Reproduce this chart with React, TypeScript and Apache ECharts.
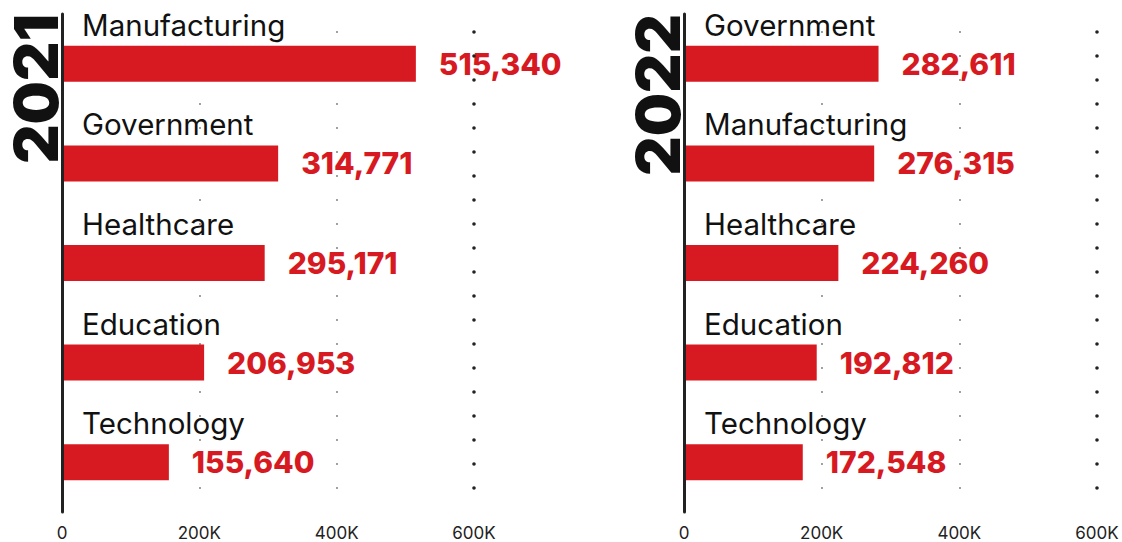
import React, { useEffect, useRef } from "react";
import * as echarts from "echarts";

const categories2021 = ["Manufacturing", "Government", "Healthcare", "Education", "Technology"];
const values2021 = [515340, 314771, 295171, 206953, 155640];
const categories2022 = ["Government", "Manufacturing", "Healthcare", "Education", "Technology"];
const values2022 = [282611, 276315, 224260, 192812, 172548];
const xTickLabels: Record<number, string> = { 0: "0", 200000: "200K", 400000: "400K", 600000: "600K" };
const years = ["2021", "2022"];

const RED = "#d71a21";
const INK = "#111111";
const FONT = "Inter, 'Liberation Sans', sans-serif";

function panel(idx: number, cats: string[], vals: number[]) {
  const xAxis = {
    type: "value",
    gridIndex: idx,
    min: 0,
    max: 600000,
    interval: 200000,
    axisLine: { show: false },
    axisTick: { show: false },
    axisLabel: {
      formatter: (v: number) => xTickLabels[v] ?? "",
      color: "#222",
      fontSize: 17,
      fontFamily: FONT,
      margin: 12,
    },
    splitLine: {
      show: true,
      lineStyle: { color: "#222", width: 1.6, type: [0, 24], cap: "round", dashOffset: 6 },
    },
  };
  const yAxis = {
    type: "category",
    gridIndex: idx,
    inverse: true,
    data: cats,
    axisLine: { show: true, lineStyle: { color: "#222", width: 3 } },
    axisTick: { show: false },
    axisLabel: { show: false },
    splitLine: { show: false },
    z: 5,
  };
  const series = [
    {
      type: "bar",
      xAxisIndex: idx,
      yAxisIndex: idx,
      data: vals,
      barWidth: 36,
      itemStyle: { color: RED },
      label: {
        show: true,
        position: "right",
        distance: 23,
        formatter: (p: any) => Number(p.value).toLocaleString("en-US"),
        color: RED,
        fontSize: 30,
        fontWeight: 800,
        fontFamily: FONT,
      },
      markLine: {
        silent: true,
        symbol: ["none", "none"],
        label: { show: false },
        lineStyle: { color: "#222", width: 3.6, type: [0, 24], cap: "round", dashOffset: 6 },
        data: [{ xAxis: 600000 }],
      },
      z: 2,
    },
    {
      type: "bar",
      xAxisIndex: idx,
      yAxisIndex: idx,
      data: vals,
      barWidth: 36,
      barGap: "-100%",
      silent: true,
      itemStyle: { color: "rgba(0,0,0,0)" },
      label: {
        show: true,
        position: [20, -6],
        align: "left",
        verticalAlign: "bottom",
        formatter: "{b}",
        color: INK,
        fontSize: 29.5,
        fontFamily: FONT,
      },
      z: 3,
    },
  ];
  return { xAxis, yAxis, series };
}

export default function App() {
  const ref = useRef<HTMLDivElement>(null);
  useEffect(() => {
    if (!ref.current) return;
    const chart = echarts.init(ref.current, null, { renderer: "svg" });
    const p1 = panel(0, categories2021, values2021);
    const p2 = panel(1, categories2022, values2022);
    chart.setOption({
      animation: false,
      backgroundColor: "#ffffff",
      grid: [
        { left: 62, top: 14, width: 412, height: 498 },
        { left: 684, top: 14, width: 413, height: 498 },
      ],
      xAxis: [p1.xAxis, p2.xAxis],
      yAxis: [p1.yAxis, p2.yAxis],
      series: [...p1.series, ...p2.series],
      graphic: [
        {
          type: "text",
          x: 36,
          y: 14,
          rotation: Math.PI / 2,
          style: { text: years[0], font: `900 61px ${FONT}`, fill: INK, align: "right", verticalAlign: "middle" },
        },
        {
          type: "text",
          x: 658,
          y: 14,
          rotation: Math.PI / 2,
          style: { text: years[1], font: `900 61px ${FONT}`, fill: INK, align: "right", verticalAlign: "middle" },
        },
      ],
    });
    return () => chart.dispose();
  }, []);
  return (
    <div
      ref={ref}
      style={{ position: "fixed", left: 0, top: 0, width: 1122, height: 542, background: "#fff" }}
    />
  );
}
